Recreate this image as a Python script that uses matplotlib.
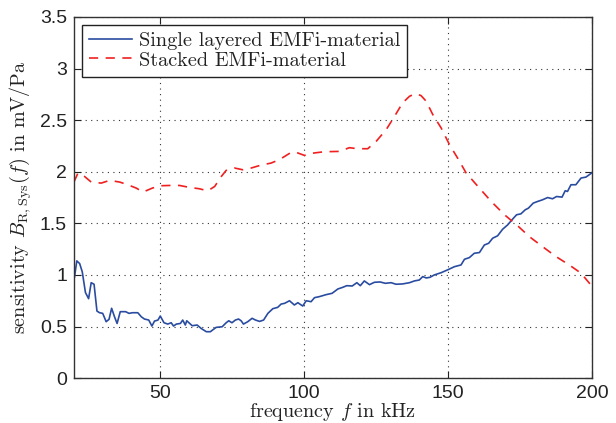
import matplotlib
matplotlib.use("Agg")
import matplotlib.pyplot as plt
import numpy as np

# sensitivity of single layered EMFi-material (kHz, mV/Pa)
freq_single = [20.2, 21, 22, 22.9, 24, 25.1, 26, 27, 28, 28.9, 30, 31.2, 32.2, 33.1, 34.1, 35,
               36.1, 38, 39.1, 40.4, 42.2, 43.4, 44.5, 46, 47.1, 48, 49.2, 50, 51.3, 52.6, 53.8,
               54.6, 55.6, 57, 57.8, 58.7, 59.2, 61.1, 62.8, 64.2, 66, 67.4, 69.4, 71.5, 72.9,
               73.8, 74.9, 76.1, 77.2, 78.1, 78.9, 80.4, 81.9, 83.1, 84.5, 85.9, 87.4, 89.1,
               90.8, 92, 93.2, 94.9, 96.6, 97.8, 99.5, 100.7, 102.4, 103.6, 105.3, 107.6, 109.7,
               111.7, 113.4, 114.8, 116.7, 118.3, 119.5, 120.9, 122.7, 124.4, 126.4, 128.2,
               130.2, 131.9, 134.2, 136.6, 138.3, 140, 141.2, 142.4, 143.7, 145.2, 147.6, 149.9,
               152.2, 154.5, 155.7, 157.4, 159.1, 160.9, 162.6, 164.1, 165.5, 167.2, 169, 170.7,
               172.2, 173.8, 175.3, 176.8, 177.9, 179.6, 181.1, 182.8, 184.6, 186.3, 187.7,
               189.6, 190.7, 191.5, 192.7, 194.4, 196.2, 197.9, 200]
sens_single = [0.98, 1.136, 1.11, 1.03, 0.83, 0.77, 0.925, 0.91, 0.65, 0.634, 0.628, 0.547, 0.57,
               0.677, 0.595, 0.53, 0.644, 0.644, 0.628, 0.634, 0.634, 0.595, 0.573, 0.563, 0.505,
               0.553, 0.563, 0.602, 0.537, 0.524, 0.537, 0.505, 0.524, 0.53, 0.563, 0.515, 0.556,
               0.508, 0.515, 0.482, 0.45, 0.45, 0.492, 0.498, 0.537, 0.556, 0.537, 0.563, 0.573,
               0.556, 0.524, 0.547, 0.58, 0.563, 0.55, 0.563, 0.628, 0.673, 0.686, 0.718, 0.725,
               0.75, 0.709, 0.731, 0.699, 0.75, 0.741, 0.78, 0.79, 0.809, 0.822, 0.864, 0.88,
               0.896, 0.893, 0.925, 0.896, 0.942, 0.906, 0.929, 0.932, 0.919, 0.925, 0.91, 0.913,
               0.925, 0.942, 0.951, 0.984, 0.971, 0.977, 1.0, 1.022, 1.05, 1.08, 1.097, 1.152,
               1.168, 1.21, 1.217, 1.29, 1.307, 1.356, 1.379, 1.444, 1.485, 1.534, 1.583, 1.592,
               1.631, 1.647, 1.696, 1.712, 1.728, 1.75, 1.738, 1.76, 1.754, 1.816, 1.809, 1.874,
               1.874, 1.939, 1.948, 1.99]

# sensitivity of stacked EMFi-material
freq_stacked = [20, 21.4, 23.7, 26, 29.5, 32.4, 35.9, 38.7, 41.7, 44, 47.2, 49.8, 53.2, 56.7,
                60.2, 63.6, 66.5, 68.9, 71.2, 72.9, 75.8, 78.7, 81.6, 85.1, 88.5, 91.4, 95.5,
                97.2, 100.1, 103, 107, 112.3, 115.7, 118.6, 122.1, 125, 128.5, 131.4, 134.2,
                136.6, 138.6, 140.6, 142.4, 144.7, 147.6, 150.5, 153.3, 156.3, 160.9, 165,
                169.6, 174.2, 178.2, 182.8, 187.5, 192.1, 196.2, 200]
sens_stacked = [1.9, 1.987, 1.954, 1.9, 1.89, 1.916, 1.9, 1.874, 1.841, 1.803, 1.841, 1.864,
                1.867, 1.867, 1.848, 1.835, 1.815, 1.857, 1.954, 2.013, 2.036, 2.019, 2.036,
                2.065, 2.084, 2.117, 2.188, 2.188, 2.158, 2.18, 2.194, 2.197, 2.233, 2.223,
                2.223, 2.294, 2.408, 2.537, 2.667, 2.731, 2.757, 2.738, 2.683, 2.553, 2.424,
                2.262, 2.133, 1.987, 1.841, 1.712, 1.583, 1.476, 1.372, 1.275, 1.178, 1.097,
                1.017, 0.89]

x_ticks = [50, 100, 150, 200]
y_ticks = [0, 0.5, 1, 1.5, 2, 2.5, 3, 3.5]

plt.rcParams['mathtext.fontset'] = 'cm'
plt.rcParams['axes.unicode_minus'] = False
serif = ['cmr10', 'DejaVu Serif']
txt_col = '#222222'

fig = plt.figure(figsize=(6.16, 4.23), dpi=100)
ax = fig.add_axes([0.120, 0.106, 0.841, 0.854])

ax.plot(freq_single, sens_single, color='#2a4ca0', lw=1.2, label='Single layered EMFi-material')
ax.plot(freq_stacked, sens_stacked, color='#f02020', lw=1.2, ls=(0, (5.5, 4.5)),
        label='Stacked EMFi-material')

ax.set_xlim(20, 200)
ax.set_ylim(0, 3.5)
ax.set_xticks(x_ticks)
ax.set_yticks(y_ticks)
ax.set_xticklabels([str(t) for t in x_ticks])
ax.set_yticklabels(['0', '0.5', '1', '1.5', '2', '2.5', '3', '3.5'])
ax.tick_params(direction='in', top=True, right=True, length=5, width=0.8,
               labelsize=14, colors=txt_col, pad=5)
for lbl in ax.get_xticklabels() + ax.get_yticklabels():
    lbl.set_family(['Liberation Sans', 'DejaVu Sans'])
ax.grid(True, color='#333333', ls=(0, (1, 4)), lw=0.8)
for sp in ax.spines.values():
    sp.set_color('#333333')
    sp.set_linewidth(1.0)

ax.set_xlabel(r'frequency $f$ in kHz', family=serif, fontsize=14.5, color=txt_col, labelpad=-1)
ax.set_ylabel(r'sensitivity $B_{\mathrm{R,Sys}}(f)$ in $\mathrm{mV/Pa}$', family=serif,
              fontsize=14.5, color=txt_col, labelpad=4)

leg = ax.legend(loc='upper left', fancybox=False, framealpha=1, edgecolor='#222222',
                prop={'family': serif, 'size': 14.6}, handlelength=2.1,
                borderaxespad=0.4, labelspacing=0.05, borderpad=0.35, handletextpad=0.35)
leg.get_frame().set_linewidth(1.0)
for t in leg.get_texts():
    t.set_color(txt_col)

fig.savefig('out.png', dpi=100)
